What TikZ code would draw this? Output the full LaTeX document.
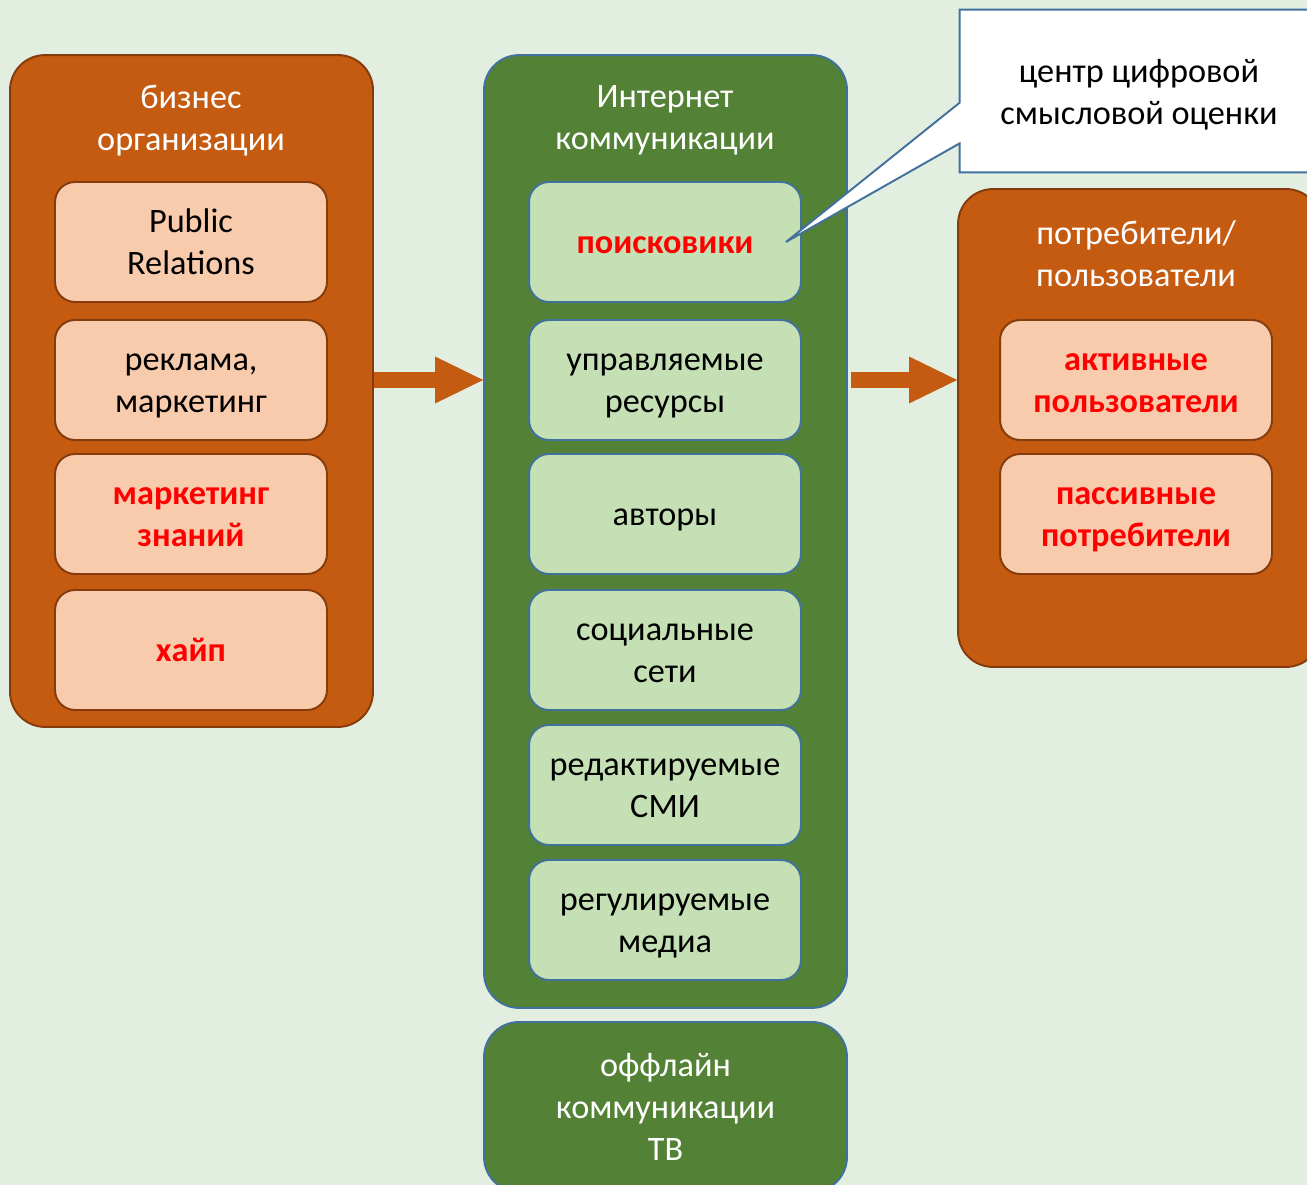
\documentclass[tikz,border=0pt]{standalone}
\usepackage{fontspec}
\setmainfont{Carlito}
\usetikzlibrary{arrows.meta, positioning, calc}
\definecolor{mOrange}{HTML}{C55A11}
\definecolor{mBrown}{HTML}{843C0C}
\definecolor{mPeach}{HTML}{F8CBAD}
\definecolor{mGreen}{HTML}{538135}
\definecolor{mLightGreen}{HTML}{C5E0B4}
\definecolor{mBlue}{HTML}{41719C}
\definecolor{mBack}{HTML}{E2EEE0}
\definecolor{mRed}{HTML}{FF0000}
\newcommand{\mfont}{\fontsize{19.5}{24}\selectfont}
\tikzset{
  obox/.style={draw=mBrown, fill=mOrange, rounded corners=0.7cm,
               line width=1.1pt, minimum width=7.26cm},
  gbox/.style={draw=mBlue, fill=mGreen, rounded corners=0.7cm,
               line width=1.1pt, minimum width=7.26cm},
  item/.style={rounded corners=0.4cm, line width=1.1pt, minimum width=5.44cm,
               minimum height=2.4cm, align=center, font=\mfont,
               text height=18.56pt, text depth=5.25pt},
  twoline/.style={text height=42.56pt},
  oitem/.style={item, draw=mBrown, fill=mPeach},
  gitem/.style={item, draw=mBlue, fill=mLightGreen},
  gtitle/.style={text=white, align=center, font=\mfont},
  hot/.style={text=mRed, font=\mfont\bfseries},
  flow/.style={mOrange, line width=0.32cm,
               -{Triangle[length=0.96cm, width=0.94cm, line width=0pt]}},
}

\begin{document}
\begin{tikzpicture}[x=0.02cm, y=-0.02cm]
  \useasboundingbox (0,0) rectangle (1307,1185);
  \clip (0,0) rectangle (1307,1185);
  \fill[mBack] (0,0) rectangle (1307,1185);
  % group boxes
  \node[obox, minimum height=13.44cm] (biz)   at (191.5,391) {};
  \node[gbox, minimum height=19.06cm] (inet)  at (665.5,531.5) {};
  \node[obox, minimum height=9.56cm]  (users) at (1139.5,428) {};
  \node[gbox, minimum height=3.4cm, gtitle] (offline) at (665.5,1107)
    {оффлайн\\коммуникации\\ТВ};
  \node[gtitle] (biztitle)   at (191,121)  {бизнес\\организации};
  \node[gtitle] (inettitle)  at (665,120)  {Интернет\\коммуникации};
  \node[gtitle] (userstitle) at (1136,254) {потребители/\\пользователи};
  % business side
  \node[oitem, twoline] (pr)   at (191,242) {Public\\Relations};
  \node[oitem, twoline] (ads)  at (191,380) {реклама,\\маркетинг};
  \node[oitem, twoline, hot] (know) at (191,514) {маркетинг\\знаний};
  \node[oitem, hot] (hype) at (191,650) {хайп};
  % internet side
  \node[gitem, hot] (srch) at (665,242) {поисковики};
  \node[gitem, twoline] (managed) at (665,380) {управляемые\\ресурсы};
  \node[gitem] (authors) at (665,514) {авторы};
  \node[gitem, twoline] (social)  at (665,650) {социальные\\сети};
  \node[gitem, twoline] (press)   at (665,785) {редактируемые\\СМИ};
  \node[gitem, twoline] (media)   at (665,920) {регулируемые\\медиа};
  % users side
  \node[oitem, twoline, hot] (active)  at (1136,380) {активные\\пользователи};
  \node[oitem, twoline, hot] (passive) at (1136,514) {пассивные\\потребители};
  % flow arrows
  \draw[flow] (biz.east |- ads) -- (inet.west |- ads);
  \draw[flow, shorten <=2] (inet.east |- managed) -- (users.west |- managed);
  % callout
  \node[minimum width=7.2cm, minimum height=3.24cm] (note) at (1140,91) {};
  \coordinate (tip) at ($(srch.east)+(-16,0)$);
  \draw[mBlue, fill=white, line width=1.1pt]
    ($(note.north west)+(0,93)$) -- (note.north west) -- (note.north east)
    -- (note.south east) -- (note.south west) -- ($(note.south west)+(0,-29)$)
    -- (tip) -- cycle;
  \node[align=center, font=\mfont] (notetext) at (1139,95)
    {центр цифровой\\смысловой оценки};
\end{tikzpicture}
\end{document}
